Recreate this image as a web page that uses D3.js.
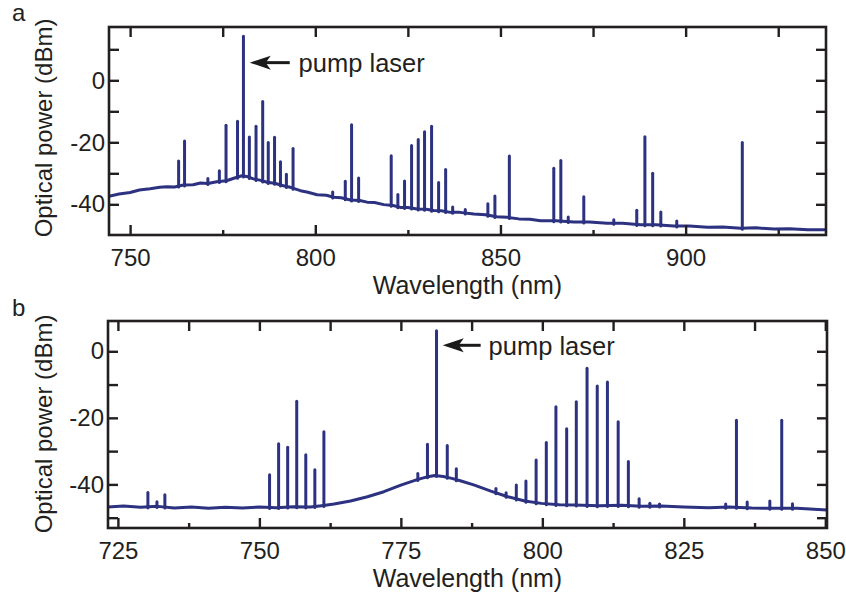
<!DOCTYPE html>
<html>
<head>
<meta charset="utf-8">
<script src="https://cdn.jsdelivr.net/npm/d3@7"></script>
<style>
  body { margin: 0; background: #fff; }
  svg { display: block; font-family: "Liberation Sans", Arial, sans-serif; }
</style>
</head>
<body>
<div id="chart"></div>
<script>
// ---- panel a: background spectrum (nm / dBm)
const baseA_nm = [744.3, 747, 750, 752.5, 755.4, 758, 760, 762, 764.4, 767, 769, 771, 773.4, 776, 778, 780.2, 781.5,
  783.3, 785, 787, 789, 791.4, 793.5, 796, 798, 800.5, 803, 805, 807, 809.5, 812, 814, 816, 818.5, 821, 823, 825,
  827.5, 830, 832, 834, 836.5, 839, 842.8, 846, 849, 851.8, 855, 858, 860.8, 865, 869.8, 874, 878.8, 883, 887.8,
  892, 896.8, 901, 905.9, 910, 914.9, 919, 923.9, 928, 933, 937.9];
const baseA_dbm = [-37.4, -36.7, -36.2, -35.4, -35.0, -34.5, -34.3, -34.4, -33.8, -33.7, -33.1, -33.3, -32.7, -32.4, -31.6, -30.8, -31.0,
  -31.8, -32.2, -32.9, -33.2, -34.0, -34.6, -35.6, -36.1, -36.9, -37.1, -37.7, -37.9, -38.6, -38.8, -39.3, -39.4, -40.1, -40.4, -41.0, -41.0,
  -41.5, -41.6, -42.0, -42.1, -42.6, -42.6, -43.1, -43.4, -44.0, -44.2, -44.7, -44.8, -45.3, -45.3, -45.7, -45.7, -46.1, -46.1, -46.6,
  -46.6, -47.0, -47.0, -47.4, -47.3, -47.7, -47.6, -48.0, -47.9, -48.2, -48.2];
// lines standing out of the background
const peaksA_nm = [763.1, 764.7, 771.0, 774.1, 775.9, 779.0, 780.6, 782.2, 784.0, 785.8, 787.3, 789.0, 790.6, 792.2, 794.0,
  804.7, 808.1, 809.8, 811.7, 820.5, 822.3, 824.1, 826.0, 827.8, 829.5, 831.4, 833.3, 835.2, 837.1, 840.5, 846.6,
  848.5, 852.4, 864.4, 866.3, 868.3, 872.5, 880.6, 886.8, 889.0, 891.1, 893.3, 897.6, 915.3];
const peaksA_dbm = [-26.0, -19.6, -31.7, -29.2, -14.5, -13.2, 14.2, -18.3, -14.8, -6.8, -20.1, -18.4, -26.3, -30.3, -22.0,
  -36.0, -32.6, -14.3, -31.5, -24.3, -36.8, -32.5, -21.0, -19.1, -16.6, -14.8, -33.0, -28.8, -40.9, -41.7, -39.8,
  -37.3, -24.4, -28.4, -25.9, -44.1, -37.6, -45.0, -41.9, -18.2, -30.0, -42.5, -45.4, -20.1];

// ---- panel b
const baseB_nm = [723.2, 726, 729, 732, 735, 738, 741, 744, 747, 750, 753, 756, 759, 761, 763.2, 766.1, 769.1, 772, 775,
  778, 779.5, 781, 782.5, 784, 785.5, 788, 790.9, 793.9, 796.9, 799.8, 803, 805.7, 810, 814, 817.6, 821, 825, 829.4,
  833, 837, 841.2, 845, 848, 850.3];
const baseB_dbm = [-46.8, -46.5, -46.9, -46.6, -47.1, -46.8, -47.2, -46.9, -47.1, -46.8, -47.0, -46.7, -46.8, -46.4, -45.9, -45.0, -43.7, -42.2, -40.2,
  -38.5, -37.8, -37.3, -37.6, -38.2, -38.9, -40.2, -42.0, -43.7, -45.0, -45.7, -46.1, -46.2, -46.4, -46.3, -46.6, -46.5, -46.8, -47.0,
  -46.8, -47.1, -47.2, -47.2, -47.5, -47.7];
const peaksB_nm = [730.3, 731.9, 733.3, 751.8, 753.4, 755.0, 756.6, 758.2, 759.8, 761.4, 778.0, 779.7, 781.3, 783.2, 784.8,
  791.8, 793.6, 795.4, 797.1, 798.9, 800.7, 802.4, 804.3, 806.0, 807.9, 809.7, 811.5, 813.4, 815.2, 817.1, 819.0,
  820.7, 832.4, 834.3, 836.2, 840.2, 842.3, 844.2];
const peaksB_dbm = [-42.4, -45.2, -43.1, -37.1, -27.8, -28.8, -15.0, -31.1, -35.6, -24.2, -36.7, -27.9, 6.2, -28.3, -35.3,
  -41.2, -42.5, -40.2, -39.0, -32.7, -27.4, -16.7, -23.3, -15.2, -5.1, -10.4, -9.2, -21.2, -33.1, -44.3, -45.7,
  -45.9, -45.9, -20.7, -45.3, -45.0, -20.7, -45.8];

// ---- ticks
const xTicksA = [750, 775, 800, 825, 850, 875, 900, 925];
const xLabelsA = [750, 800, 850, 900];
const xTicksB = [725, 737.5, 750, 762.5, 775, 787.5, 800, 812.5, 825, 837.5, 850];
const xLabelsB = [725, 750, 775, 800, 825, 850];
const yTicksA = [10, 0, -10, -20, -30, -40];
const yTicksB = [0, -10, -20, -30, -40, -50];
const yLabels = [0, -20, -40];

const W = 846, H = 594;
const lineColor = "#2c3180";
const axisColor = "#231f20";

const svg = d3.select("#chart")
  .append("svg")
  .attr("width", W)
  .attr("height", H);

svg.append("rect").attr("width", W).attr("height", H).attr("fill", "#fff");

const panels = [
  {
    letter: "a", box: { left: 109, top: 27, right: 826, bottom: 235 },
    xDomain: [744.3, 937.9], yDomain: [-49.9, 17.2],
    baseNm: baseA_nm, baseDbm: baseA_dbm, peakNm: peaksA_nm, peakDbm: peaksA_dbm,
    xTicks: xTicksA, xLabels: xLabelsA, yTicks: yTicksA,
    arrow: { tip: [782.3, 5.7], tail: 793.1, text: 795.5, textY: 2.6 },
    letterPos: [12, 21], yTitleY: 128
  },
  {
    letter: "b", box: { left: 108, top: 321, right: 827, bottom: 528 },
    xDomain: [723.25, 850.3], yDomain: [-53.1, 9.1],
    baseNm: baseB_nm, baseDbm: baseB_dbm, peakNm: peaksB_nm, peakDbm: peaksB_dbm,
    xTicks: xTicksB, xLabels: xLabelsB, yTicks: yTicksB,
    arrow: { tip: [782.4, 1.8], tail: 789.1, text: 790.5, textY: -1.2 },
    letterPos: [12, 316], yTitleY: 424
  }
];

panels.forEach(p => {
  const b = p.box;
  const x = d3.scaleLinear().domain(p.xDomain).range([b.left, b.right]);
  const y = d3.scaleLinear().domain(p.yDomain).range([b.bottom, b.top]);
  // piecewise background level, used for the foot of every line
  const floor = d3.scaleLinear().domain(p.baseNm).range(p.baseDbm).clamp(true);

  const g = svg.append("g");

  const clipId = `clip-${p.letter}`;
  g.append("clipPath").attr("id", clipId)
    .append("rect")
    .attr("x", b.left).attr("y", b.top)
    .attr("width", b.right - b.left).attr("height", b.bottom - b.top);

  const plot = g.append("g").attr("clip-path", `url(#${clipId})`);

  const line = d3.line()
    .x(d => x(d[0]))
    .y(d => y(d[1]));

  plot.append("path")
    .datum(d3.zip(p.baseNm, p.baseDbm))
    .attr("d", line)
    .attr("fill", "none")
    .attr("stroke", lineColor)
    .attr("stroke-width", 3)
    .attr("stroke-linejoin", "round");

  plot.selectAll(".peak")
    .data(d3.zip(p.peakNm, p.peakDbm))
    .enter()
    .append("line")
    .attr("class", "peak")
    .attr("x1", d => x(d[0]))
    .attr("x2", d => x(d[0]))
    .attr("y1", d => y(floor(d[0])) + 1)
    .attr("y2", d => y(d[1]))
    .attr("stroke", lineColor)
    .attr("stroke-width", 3)
    .attr("stroke-linecap", "round");

  // axes, ticks pointing inwards
  const fmt = d => d3.format("d")(d).replace("−", "-");

  const bottomMinor = g.append("g")
    .attr("transform", `translate(0,${b.bottom})`)
    .call(d3.axisBottom(x).tickValues(p.xTicks.filter(t => !p.xLabels.includes(t)))
      .tickSizeInner(-5).tickSizeOuter(0).tickFormat(""));

  const bottom = g.append("g")
    .attr("transform", `translate(0,${b.bottom})`)
    .call(d3.axisBottom(x).tickValues(p.xLabels)
      .tickSizeInner(-10).tickSizeOuter(0).tickPadding(14).tickFormat(fmt));

  const top = g.append("g")
    .attr("transform", `translate(0,${b.top})`)
    .call(d3.axisTop(x).tickValues(p.xTicks)
      .tickSizeInner(-10).tickSizeOuter(0).tickFormat(""));

  const left = g.append("g")
    .attr("transform", `translate(${b.left},0)`)
    .call(d3.axisLeft(y).tickValues(p.yTicks)
      .tickSizeInner(-10).tickSizeOuter(0).tickPadding(4)
      .tickFormat(d => yLabels.includes(d) ? fmt(d) : ""));

  const right = g.append("g")
    .attr("transform", `translate(${b.right},0)`)
    .call(d3.axisRight(y).tickValues(p.yTicks)
      .tickSizeInner(-10).tickSizeOuter(0).tickFormat(""));

  [bottomMinor, bottom, top, left, right].forEach(a => {
    a.select(".domain").remove();
    a.selectAll(".tick line").attr("stroke", axisColor).attr("stroke-width", 2.4);
    a.selectAll(".tick text")
      .attr("fill", axisColor)
      .attr("font-size", 24)
      .attr("font-family", "Liberation Sans, Arial, sans-serif");
  });

  g.append("rect")
    .attr("x", b.left).attr("y", b.top)
    .attr("width", b.right - b.left).attr("height", b.bottom - b.top)
    .attr("fill", "none")
    .attr("stroke", axisColor)
    .attr("stroke-width", 2.6);

  // titles
  g.append("text")
    .text("Wavelength (nm)")
    .attr("x", (b.left + b.right) / 2)
    .attr("y", b.bottom + 59)
    .attr("text-anchor", "middle")
    .attr("font-size", 25)
    .attr("fill", axisColor);

  g.append("text")
    .text("Optical power (dBm)")
    .attr("transform", `translate(52,${p.yTitleY}) rotate(-90)`)
    .attr("text-anchor", "middle")
    .attr("font-size", 24)
    .attr("fill", axisColor);

  g.append("text")
    .text(p.letter)
    .attr("x", p.letterPos[0])
    .attr("y", p.letterPos[1])
    .attr("font-size", 24)
    .attr("fill", axisColor);

  // pump laser annotation
  const a = p.arrow;
  const tx = x(a.tip[0]), ty = y(a.tip[1]);
  g.append("line")
    .attr("x1", tx + 12).attr("x2", x(a.tail))
    .attr("y1", ty).attr("y2", ty)
    .attr("stroke", "#1a1a1a")
    .attr("stroke-width", 3);
  g.append("path")
    .attr("d", `M${tx},${ty} L${tx + 21},${ty - 7} L${tx + 16},${ty} L${tx + 21},${ty + 7} Z`)
    .attr("fill", "#1a1a1a");
  g.append("text")
    .text("pump laser")
    .attr("x", x(a.text))
    .attr("y", y(a.textY))
    .attr("font-size", 25.5)
    .attr("fill", axisColor);
});
</script>
</body>
</html>
